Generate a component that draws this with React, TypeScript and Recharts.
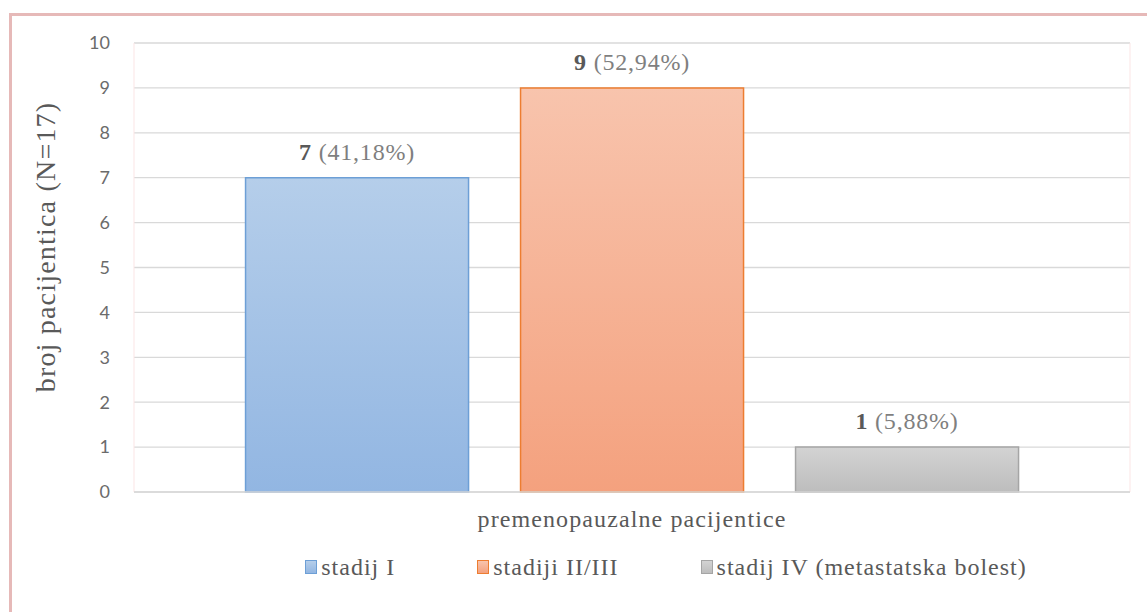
import React from 'react';
import { BarChart, Bar, XAxis, YAxis, CartesianGrid, Legend, LabelList } from 'recharts';

// podaci s grafikona
const categories = ['premenopauzalne pacijentice'];
const seriesKeys = ['stadij1', 'stadij23', 'stadij4'];
const seriesNames = ['stadij I', 'stadiji II/III', 'stadij IV (metastatska bolest)'];
const seriesValues = [7, 9, 1];
const seriesPercents = ['41,18%', '52,94%', '5,88%'];
const yTicks = [0, 1, 2, 3, 4, 5, 6, 7, 8, 9, 10];
const yLabel = 'broj pacijentica (N=17)';

const gradTop = ['#b5ceea', '#f8c4ad', '#d3d3d3'];
const gradBottom = ['#92b6e2', '#f4a17e', '#bdbdbd'];
const strokes = ['#6d9fd6', '#ed7d31', '#a5a5a5'];

const SERIF = '"Liberation Serif", "DejaVu Serif", serif';

const data = categories.map((name) => {
  const row: Record<string, string | number> = { name };
  seriesKeys.forEach((k, i) => (row[k] = seriesValues[i]));
  return row;
});

const makeBarLabel = (pct: string) => (props: any) => {
  const { x, y, width, value } = props;
  return (
    <text
      x={x + width / 2}
      y={y - 18}
      textAnchor="middle"
      fontFamily={SERIF}
      fontSize={24}
      letterSpacing={0.8}
    >
      <tspan fontWeight="bold" fill="#595959">{value}</tspan>
      <tspan fill="#7f7f7f"> ({pct})</tspan>
    </text>
  );
};

const renderYLabel = () => {
  const cx = 45;
  const cy = 247;
  return (
    <text
      x={cx}
      y={cy}
      transform={`rotate(-90, ${cx}, ${cy})`}
      textAnchor="middle"
      dominantBaseline="central"
      fontFamily={SERIF}
      fontSize={28}
      letterSpacing={1.2}
      fill="#595959"
    >
      {yLabel}
    </text>
  );
};

const renderLegend = () => (
  <div
    style={{
      display: 'flex',
      justifyContent: 'center',
      alignItems: 'center',
      gap: 82,
      height: 40,
      paddingLeft: 185,
      boxSizing: 'border-box',
      fontFamily: SERIF,
      fontSize: 24,
      letterSpacing: 1,
      color: '#595959',
    }}
  >
    {seriesNames.map((n, i) => (
      <div key={n} style={{ display: 'flex', alignItems: 'center' }}>
        <span
          style={{
            width: 10,
            height: 12,
            marginRight: 4,
            border: `1px solid ${strokes[i]}`,
            background: `linear-gradient(${gradTop[i]}, ${gradBottom[i]})`,
            display: 'inline-block',
          }}
        />
        {n}
      </div>
    ))}
  </div>
);

export default function App() {
  return (
    <div style={{ position: 'fixed', left: 0, top: 0, width: 1147, height: 612, overflow: 'hidden', background: '#fff' }}>
      <div
        style={{
          position: 'absolute',
          left: 9,
          top: 13,
          width: 1300,
          height: 800,
          border: '3px solid #e6b9b8',
        }}
      />
      <div style={{ position: 'absolute', left: 0, top: 0 }}>
        <BarChart
          width={1147}
          height={612}
          data={data}
          margin={{ top: 43, right: 17, left: 0, bottom: 30 }}
          barCategoryGap="11.2%"
          barGap={52}
        >
          <defs>
            {seriesKeys.map((k, i) => (
              <linearGradient key={k} id={`g-${k}`} x1="0" y1="0" x2="0" y2="1">
                <stop offset="0%" stopColor={gradTop[i]} />
                <stop offset="100%" stopColor={gradBottom[i]} />
              </linearGradient>
            ))}
          </defs>
          <CartesianGrid vertical={false} stroke="#d9d9d9" strokeWidth={1.3} />
          <CartesianGrid
            horizontal={false}
            stroke="#fbe5e5"
            verticalCoordinatesGenerator={({ offset }: any) => [offset.left, offset.left + offset.width]}
          />
          <XAxis
            dataKey="name"
            axisLine={{ stroke: '#d9d9d9', strokeWidth: 1.3 }}
            tickLine={false}
            tickSize={0}
            tickMargin={18}
            height={50}
            tick={{ fontFamily: SERIF, fontSize: 24, letterSpacing: 1.1, fill: '#595959' }}
          />
          <YAxis
            domain={[0, 10]}
            ticks={yTicks}
            width={134}
            axisLine={false}
            tickLine={false}
            tickSize={0}
            tickMargin={24}
            tick={{ fontFamily: 'Lato, sans-serif', fontSize: 18, fill: '#6b6b6b' }}
            label={{ value: yLabel, content: renderYLabel }}
          />
          <Legend content={renderLegend} wrapperStyle={{ top: 547, left: 0, width: 1147 }} />
          {seriesKeys.map((k, i) => (
            <Bar
              key={k}
              dataKey={k}
              name={seriesNames[i]}
              fill={`url(#g-${k})`}
              stroke={strokes[i]}
              strokeWidth={1.5}
              isAnimationActive={false}
            >
              <LabelList dataKey={k} content={makeBarLabel(seriesPercents[i])} />
            </Bar>
          ))}
        </BarChart>
      </div>
    </div>
  );
}
